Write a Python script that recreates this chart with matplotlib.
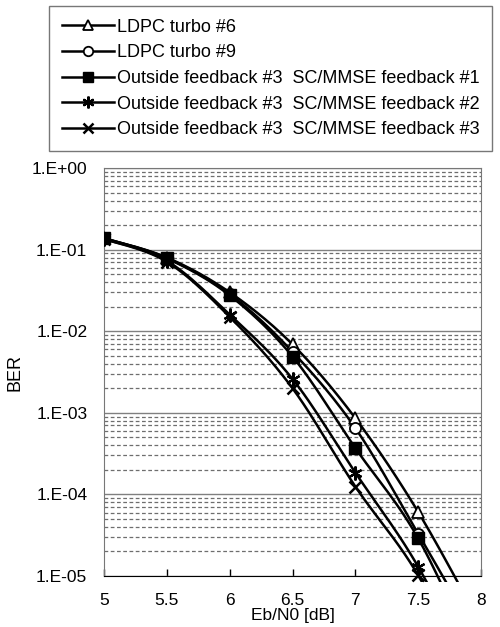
import numpy as np
import matplotlib
matplotlib.use("Agg")
import matplotlib.pyplot as plt
from matplotlib.patches import Rectangle
from matplotlib.ticker import LogLocator, FixedLocator, NullFormatter

plt.rcParams['font.family'] = ['Liberation Sans', 'DejaVu Sans']

# --- data ---
ebn0 = [5.0, 5.5, 6.0, 6.5, 7.0, 7.5, 8.0]
ber_turbo6 = [1.38e-1, 8.0e-2, 3.0e-2, 6.9e-3, 8.6e-4, 6.1e-5, 2.5e-6]
ber_turbo9 = [1.38e-1, 7.9e-2, 2.85e-2, 5.6e-3, 6.5e-4, 3.3e-5, 1.5e-6]
ber_fb1 = [1.38e-1, 7.8e-2, 2.75e-2, 4.9e-3, 3.7e-4, 2.9e-5, 7.0e-7]
ber_fb2 = [1.35e-1, 7.3e-2, 1.6e-2, 2.6e-3, 1.85e-4, 1.3e-5, 4.0e-7]
ber_fb3 = [1.35e-1, 7.1e-2, 1.5e-2, 2.0e-3, 1.25e-4, 1.02e-5, 3.0e-7]

labels = ["LDPC turbo #6",
          "LDPC turbo #9",
          "Outside feedback #3  SC/MMSE feedback #1",
          "Outside feedback #3  SC/MMSE feedback #2",
          "Outside feedback #3  SC/MMSE feedback #3"]
series = [ber_turbo6, ber_turbo9, ber_fb1, ber_fb2, ber_fb3]
# triangle, circle, filled square, asterisk, x
markers = [dict(marker='^', mfc='white', ms=8, mew=1.3),
           dict(marker='o', mfc='white', ms=8, mew=1.3),
           dict(marker='s', mfc='black', ms=9, mew=1.0),
           dict(marker=(6, 2, 0), mfc='black', ms=10, mew=1.6),
           dict(marker='x', mfc='black', ms=9, mew=1.8)]


def smooth(x, y, n=24):
    # Catmull-Rom through the points in (x, log10 y), like Excel's smoothed lines
    P = np.column_stack([np.asarray(x, float), np.log10(y)])
    P = np.vstack([P[0], P, P[-1]])
    t = np.linspace(0, 1, n)[:, None]
    segs = []
    for i in range(1, len(P) - 2):
        p0, p1, p2, p3 = P[i - 1], P[i], P[i + 1], P[i + 2]
        seg = 0.5 * (2 * p1 + (-p0 + p2) * t + (2 * p0 - 5 * p1 + 4 * p2 - p3) * t ** 2
                     + (-p0 + 3 * p1 - 3 * p2 + p3) * t ** 3)
        segs.append(seg)
    S = np.vstack(segs)
    return S[:, 0], 10 ** S[:, 1]


fig = plt.figure(figsize=(5.0, 6.27), dpi=100)
ax = fig.add_axes([0.208, 0.0813, 0.754, 0.6507])

ax.set_yscale('log')
ax.set_xlim(5, 8)
ax.set_ylim(1e-5, 1)

# grid: solid at decades, dashed in between
ax.yaxis.set_major_locator(LogLocator(base=10, numticks=10))
ax.yaxis.set_minor_locator(LogLocator(base=10, subs=np.arange(2, 10), numticks=10))
ax.yaxis.set_minor_formatter(NullFormatter())
ax.grid(True, which='major', axis='y', color='#808080', lw=1.0, ls='-')
ax.grid(True, which='minor', axis='y', color='#6e6e6e', lw=0.9, ls=(0, (3, 2)))
ax.set_axisbelow(True)

yt = [1, 1e-1, 1e-2, 1e-3, 1e-4, 1e-5]
ax.set_yticks(yt)
ax.set_yticklabels(["1.E+00", "1.E-01", "1.E-02", "1.E-03", "1.E-04", "1.E-05"])
xt = [5, 5.5, 6, 6.5, 7, 7.5, 8]
ax.xaxis.set_major_locator(FixedLocator(xt))
ax.set_xticklabels(["5", "5.5", "6", "6.5", "7", "7.5", "8"])

ax.tick_params(axis='x', direction='in', length=5, width=1, pad=12, labelsize=12.5)
ax.tick_params(axis='y', which='both', length=0, pad=12, labelsize=12.5)

for s in ['left', 'right', 'top']:
    ax.spines[s].set_color('#777777')
ax.spines['bottom'].set_color('black')

ax.set_xlabel("Eb/N0 [dB]", fontsize=12.5, labelpad=0)
ax.set_ylabel("BER", fontsize=13, labelpad=6)

# lines may run a little past the bottom of the plot area, as in the original
clip = Rectangle((0, -0.015), 1, 1.03, transform=ax.transAxes, visible=False)
ax.add_patch(clip)

handles = []
for ys, lab, mk in zip(series, labels, markers):
    sx, sy = smooth(ebn0, ys)
    ln, = ax.plot(sx, sy, color='black', lw=1.8, zorder=3)
    ln.set_clip_path(clip)
    pts, = ax.plot(ebn0, ys, ls='none', color='black', mec='black', zorder=4, **mk)
    pts.set_clip_path(clip)
    h, = ax.plot([], [], color='black', lw=1.8, marker=mk['marker'], mfc=mk['mfc'],
                 mec='black', ms=mk['ms'] * 0.85, mew=mk['mew'])
    handles.append(h)

leg = fig.legend(handles, labels, loc='upper left', bbox_to_anchor=(0.098, 0.9904),
                 fontsize=13, frameon=True, fancybox=False, handlelength=2.9,
                 handletextpad=0.17, labelspacing=0.48, borderpad=0.7,
                 borderaxespad=0)
leg.get_frame().set_edgecolor('#555555')
leg.get_frame().set_linewidth(1.0)

fig.savefig("out.png", dpi=100)
